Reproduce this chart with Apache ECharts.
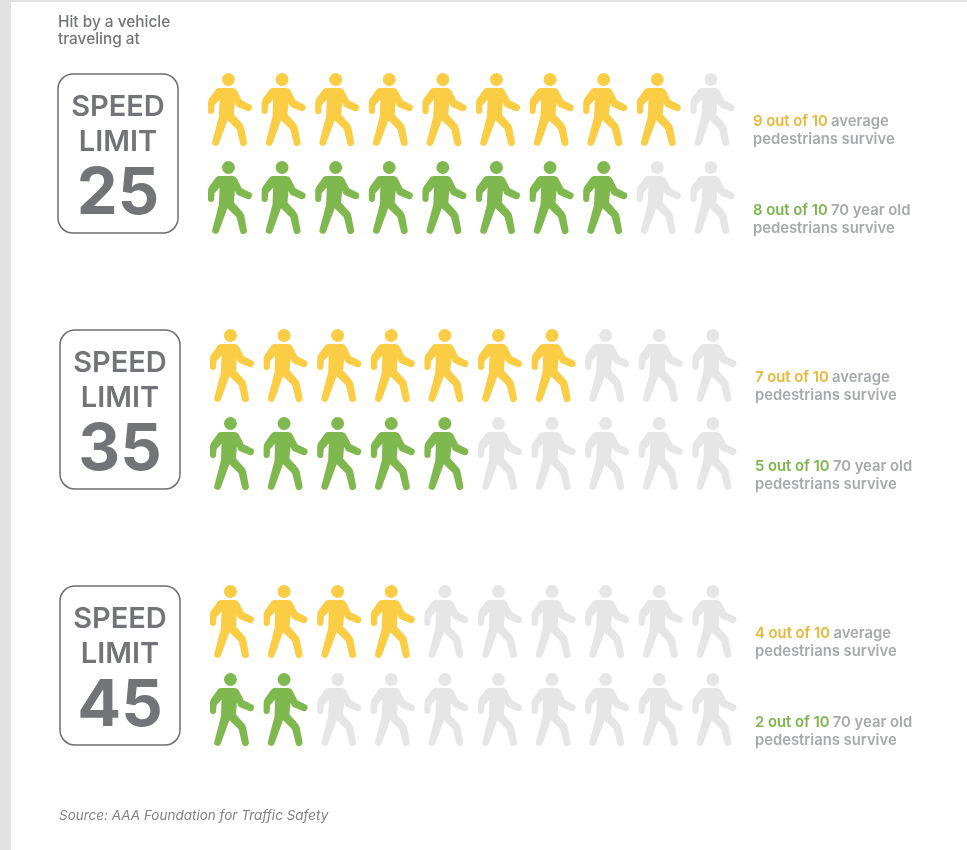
<!DOCTYPE html>
<html>
<head>
<meta charset="utf-8">
<style>
  html, body { margin: 0; padding: 0; background: #fff; }
  #chart { width: 967px; height: 850px; }
</style>
<script src="https://cdn.jsdelivr.net/npm/echarts@6/dist/echarts.min.js"></script>
</head>
<body>
<div id="chart"></div>
<script>
const speedLimits = ['25', '35', '45'];
const averageSurvivors = [9, 7, 4];
const olderSurvivors = [8, 5, 2];
const averageWords = ['average', 'average', 'average'];
const olderWords = ['70 year old', '70 year old', '70 year old'];
const columns = ['1', '2', '3', '4', '5', '6', '7', '8', '9', '10'];
const rows = ['average', 'older'];

const YELLOW = '#fbcd44';
const GREEN = '#80b850';
const EMPTY = '#e6e6e6';
const DARK = '#737478';
const FONT = 'Inter, Lato, sans-serif';

const walker =
  'path://M88 24A19 19 0 1 1 88 62A19 19 0 1 1 88 24Z' +
  'M60 68L101 68Q109 68 113 76L127 104L150 116A9 9 0 0 1 143 136L118 126Q113 124 110 119L107 112L104 146L127 172Q132 177 134 185L142 227A10 10 0 0 1 122 231L112 190L85 163L60 232A10 10 0 0 1 41 225L60 152L62 102L47 119L46 136A9 9 0 0 1 28 136L28 112Q28 104 33 98L50 74Q54 68 60 68Z';

// each block sits a little differently in the source layout
const blockLeft = [203.2, 205.2, 205.2];
const blockTop = [65.5, 321.5, 577.5];
const signLeft = [58, 60, 60];
const signTop = [74, 330, 586];
const noteLeft = [753, 755, 755];

function personData(count, rowIndex, color) {
  return columns.map((c, i) => ({
    value: [i, rowIndex],
    itemStyle: { color: i < count ? color : EMPTY, opacity: 1 },
  }));
}

const grid = [];
const xAxis = [];
const yAxis = [];
const series = [];
const graphic = [
  { type: 'rect', silent: true, z: -1, shape: { x: 0, y: 0, width: 11, height: 850 }, style: { fill: '#e2e2e2' } },
  { type: 'rect', silent: true, z: -1, shape: { x: 0, y: 0, width: 967, height: 2 }, style: { fill: '#e2e2e2' } },
  {
    type: 'text', silent: true, x: 58, y: 14,
    style: { text: 'Hit by a vehicle\ntraveling at', font: '500 15.4px ' + FONT, fill: DARK, lineHeight: 17 },
  },
  {
    type: 'text', silent: true, x: 59, y: 809,
    style: { text: 'Source: AAA Foundation for Traffic Safety', font: 'italic 13.5px ' + FONT, fill: '#808285' },
  },
];

speedLimits.forEach((limit, i) => {
  grid.push({ left: blockLeft[i], top: blockTop[i], width: 536, height: 176 });
  xAxis.push({ type: 'category', gridIndex: i, data: columns, show: false });
  yAxis.push({ type: 'category', gridIndex: i, data: rows, inverse: true, show: false });
  series.push({
    type: 'scatter', xAxisIndex: i, yAxisIndex: i, symbol: walker, symbolSize: [44, 73], silent: true,
    data: personData(averageSurvivors[i], 0, YELLOW),
  });
  series.push({
    type: 'scatter', xAxisIndex: i, yAxisIndex: i, symbol: walker, symbolSize: [44, 73], silent: true,
    data: personData(olderSurvivors[i], 1, GREEN),
  });

  const cx = signLeft[i] + 60;
  const top = signTop[i];
  graphic.push({
    type: 'rect', silent: true,
    shape: { x: signLeft[i], y: top, width: 120, height: 159, r: 15 },
    style: { fill: '#fff', stroke: '#6d6e71', lineWidth: 1.5 },
  });
  [['SPEED', 33, '600 29px '], ['LIMIT', 68, '600 29px '], [limit, 120, '700 65px ']].forEach((t) => {
    graphic.push({
      type: 'text', silent: true, x: cx, y: top + t[1], z: 5,
      style: { text: t[0], font: t[2] + FONT, fill: DARK, align: 'center', verticalAlign: 'middle' },
    });
  });

  const rich = {
    y: { font: '600 14.8px ' + FONT, fill: '#e8b737', lineHeight: 18 },
    g: { font: '600 14.8px ' + FONT, fill: '#7cb54a', lineHeight: 18 },
    n: { font: '600 14.8px ' + FONT, fill: '#a7a9ac', lineHeight: 18 },
  };
  graphic.push({
    type: 'text', silent: true, x: noteLeft[i], y: top + 39,
    style: {
      text: `{y|${averageSurvivors[i]} out of 10} {n|${averageWords[i]}}\n{n|pedestrians survive}`,
      rich,
    },
  });
  graphic.push({
    type: 'text', silent: true, x: noteLeft[i], y: top + 128,
    style: {
      text: `{g|${olderSurvivors[i]} out of 10} {n|${olderWords[i]}}\n{n|pedestrians survive}`,
      rich,
    },
  });
});

const myChart = echarts.init(document.getElementById('chart'));
myChart.setOption({
  animation: false,
  backgroundColor: '#fff',
  grid,
  xAxis,
  yAxis,
  series,
  graphic,
});
</script>
</body>
</html>
